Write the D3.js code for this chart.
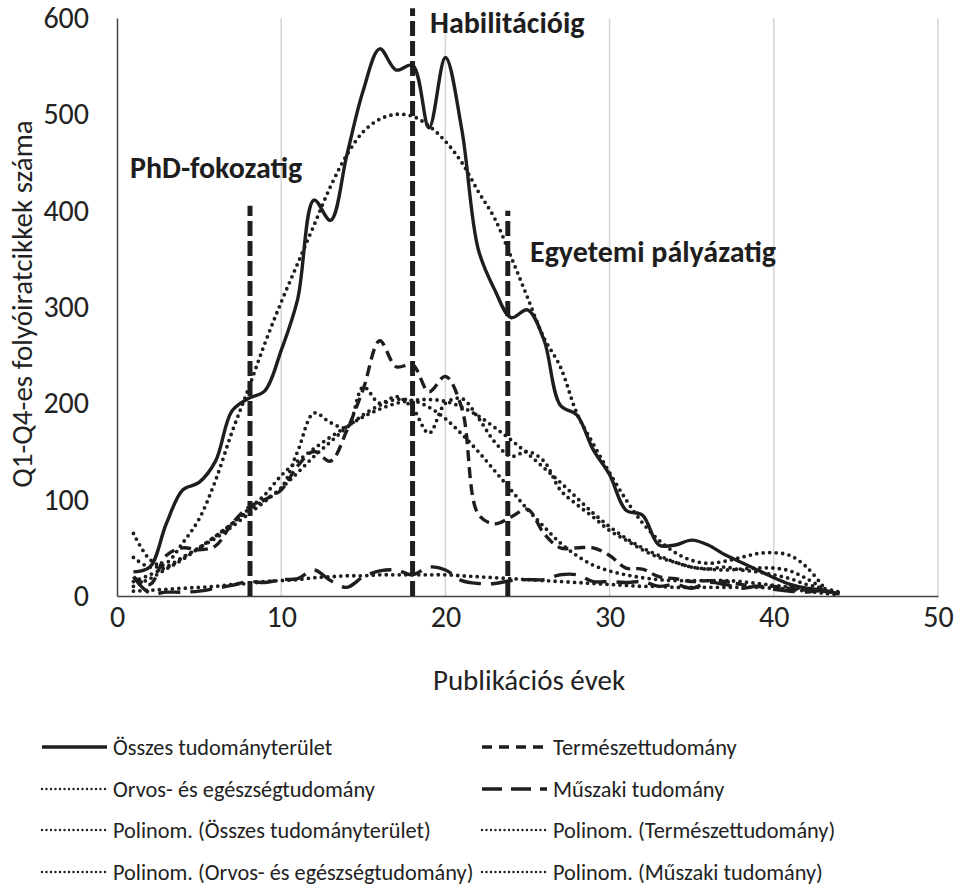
<!DOCTYPE html>
<html>
<head>
<meta charset="utf-8">
<script src="https://cdn.jsdelivr.net/npm/d3@7"></script>
<style>
  body { margin: 0; background: #fff; }
  svg { font-family: Carlito, Calibri, Lato, sans-serif; }
</style>
</head>
<body>
<svg width="960" height="887"></svg>
<script>
// publication years
var years = [1,2,3,4,5,6,7,8,9,10,11,12,13,14,15,16,17,18,19,20,21,22,
    23,24,25,26,27,28,29,30,31,32,33,34,35,36,37,38,39,40,41,42,43,44];

// measured series
var osszes = [25,30,75,110,118,140,192,205,213,255,308,411,390,458,525,568,546,551,486,559,484,360,
    318,289,297,266,198,188,152,126,89,84,53,53,58,53,43,35,27,19,12,8,6,2];
var termeszet = [20,12,42,50,48,52,75,92,100,110,135,150,140,172,215,265,238,240,212,228,195,85,
    75,82,90,65,50,50,50,42,29,28,20,18,15,16,15,12,10,10,8,6,5,3];
var orvos = [65,38,30,40,50,62,75,88,100,112,150,190,180,175,217,200,207,195,169,200,205,185,
    160,145,150,140,110,95,82,68,58,48,40,35,30,28,30,27,25,22,18,12,8,4];
var muszaki = [20,3,4,4,5,8,11,15,14,17,18,27,16,9,20,26,27,22,30,27,16,13,
    13,16,17,17,22,22,15,15,14,15,10,12,8,14,12,8,10,7,5,4,6,3];

// trend lines
var polyOsszes = [40,30,34,55,80,120,170,215,262,305,345,385,425,458,482,495,500,498,488,472,450,420,
    392,352,310,268,238,190,158,128,100,76,58,45,37,34,36,40,44,45,42,30,10];
var polyTermeszet = [15,22,30,40,50,60,72,85,98,112,128,145,160,175,188,198,204,203,196,184,168,150,
    130,110,90,72,55,42,32,26,22,19,17,16,16,16,16,15,13,11,9,7,5,3];
var polyOrvos = [10,18,28,38,50,62,75,90,105,125,140,153,165,176,186,194,200,203,204,202,196,187,
    175,162,148,133,118,102,86,72,60,50,42,35,30,28,27,28,29,29,26,18,8];
var polyMuszaki = [5,6,7,8,9,10,12,13,15,16,17,19,20,21,21,22,22,22,22,22,21,20,
    19,18,17,16,15,14,13,12,11,10,10,9,9,9,9,9,9,8,7,5,3,1];

// career milestones
var milestoneYears = [8.1, 18, 23.8];
var milestoneTops = [405, 610, 400];
var milestoneLabels = ["PhD-fokozatig", "Habilitációig", "Egyetemi pályázatig"];

var xTicks = [0,10,20,30,40,50];
var yTicks = [0,100,200,300,400,500,600];

var svg = d3.select('svg');

var x = d3.scaleLinear().domain([0, 50]).range([117, 938]);
var y = d3.scaleLinear().domain([0, 600]).range([596, 18]);

// vertical gridlines
svg.selectAll('.grid')
    .data(xTicks.slice(1))
    .enter()
    .append('line')
    .attr('x1', function(d){return x(d);})
    .attr('x2', function(d){return x(d);})
    .attr('y1', y(0))
    .attr('y2', y(600))
    .attr('stroke', '#d4d4d4')
    .attr('stroke-width', 1.5);

// axes
var xAxis = svg.append('g')
    .attr('transform', 'translate(0,' + y(0) + ')')
    .call(d3.axisBottom(x).tickValues(xTicks).tickSize(0).tickPadding(5));
var yAxis = svg.append('g')
    .attr('transform', 'translate(' + x(0) + ',0)')
    .call(d3.axisLeft(y).tickValues(yTicks).tickSize(0).tickPadding(28));
[xAxis, yAxis].forEach(function(a){
    a.select('.domain').attr('stroke', '#444').attr('stroke-width', 1.5);
    a.selectAll('text').attr('font-size', 30).attr('fill', '#222')
        .attr('font-family', 'Carlito, Calibri, Lato, sans-serif');
});
xAxis.selectAll('text').attr('dy', '0.85em');

svg.append('text')
    .attr('x', 529).attr('y', 690)
    .attr('text-anchor', 'middle')
    .attr('font-size', 29)
    .attr('fill', '#222')
    .text('Publikációs évek');
svg.append('text')
    .attr('transform', 'translate(32,304) rotate(-90)')
    .attr('text-anchor', 'middle')
    .attr('font-size', 29)
    .attr('fill', '#222')
    .text('Q1-Q4-es folyóiratcikkek száma');

var styles = {
    solid: {dash: null, width: 3.4, cap: 'butt'},
    dashed: {dash: '11,6', width: 3.4, cap: 'butt'},
    longdash: {dash: '22,10', width: 3.4, cap: 'butt'},
    dotted: {dash: '0,6.5', width: 3.8, cap: 'round'}
};

var series = [
    {name: 'Polinom. (Összes tudományterület)', values: polyOsszes, style: 'dotted'},
    {name: 'Polinom. (Természettudomány)', values: polyTermeszet, style: 'dotted'},
    {name: 'Polinom. (Orvos- és egészségtudomány)', values: polyOrvos, style: 'dotted'},
    {name: 'Polinom. (Műszaki tudomány)', values: polyMuszaki, style: 'dotted'},
    {name: 'Összes tudományterület', values: osszes, style: 'solid'},
    {name: 'Természettudomány', values: termeszet, style: 'dashed'},
    {name: 'Orvos- és egészségtudomány', values: orvos, style: 'dotted'},
    {name: 'Műszaki tudomány', values: muszaki, style: 'longdash'}
];

var line = d3.line()
    .x(function(d){return x(d[0]);})
    .y(function(d){return y(Math.max(0, d[1]));})
    .curve(d3.curveCatmullRom.alpha(0.5));

svg.selectAll('.series')
    .data(series)
    .enter()
    .append('path')
    .attr('d', function(s){
        return line(s.values.map(function(v, i){return [years[i], v];}));
    })
    .attr('fill', 'none')
    .attr('stroke', '#1e1e1e')
    .attr('stroke-width', function(s){return styles[s.style].width;})
    .attr('stroke-dasharray', function(s){return styles[s.style].dash;})
    .attr('stroke-linecap', function(s){return styles[s.style].cap;});

// milestone lines
svg.selectAll('.milestone')
    .data(milestoneYears)
    .enter()
    .append('line')
    .attr('x1', function(d){return x(d);})
    .attr('x2', function(d){return x(d);})
    .attr('y1', y(0))
    .attr('y2', function(d, i){return y(milestoneTops[i]);})
    .attr('stroke', '#1e1e1e')
    .attr('stroke-width', 5)
    .attr('stroke-dasharray', '15,5');

var labelPos = [[130, 178], [430, 33], [530, 262]];
svg.selectAll('.mlabel')
    .data(milestoneLabels)
    .enter()
    .append('text')
    .attr('x', function(d, i){return labelPos[i][0];})
    .attr('y', function(d, i){return labelPos[i][1];})
    .attr('font-size', 30)
    .attr('font-weight', 'bold')
    .attr('fill', '#1e1e1e')
    .text(function(d){return d;});

// legend
var legendOrder = [
    ['Összes tudományterület', 'Természettudomány'],
    ['Orvos- és egészségtudomány', 'Műszaki tudomány'],
    ['Polinom. (Összes tudományterület)', 'Polinom. (Természettudomány)'],
    ['Polinom. (Orvos- és egészségtudomány)', 'Polinom. (Műszaki tudomány)']
];
var rowY = [747, 789, 830, 872];
var colX = [42, 482];
legendOrder.forEach(function(row, r){
    row.forEach(function(name, c){
        var s = series.find(function(d){return d.name === name;});
        var st = styles[s.style];
        var g = svg.append('g').attr('transform', 'translate(' + colX[c] + ',' + rowY[r] + ')');
        g.append('line')
            .attr('x1', 0).attr('x2', 65)
            .attr('stroke', '#1e1e1e')
            .attr('stroke-width', s.style === 'dotted' ? 2.4 : 3.4)
            .attr('stroke-dasharray', s.style === 'dotted' ? '0,4.5' :
                (s.style === 'dashed' ? '10,7' : (s.style === 'longdash' ? '20,9' : null)))
            .attr('stroke-linecap', st.cap);
        g.append('text')
            .attr('x', 71)
            .attr('dy', '0.35em')
            .attr('font-size', 22.3)
            .attr('fill', '#222')
            .text(name);
    });
});
</script>
</body>
</html>
